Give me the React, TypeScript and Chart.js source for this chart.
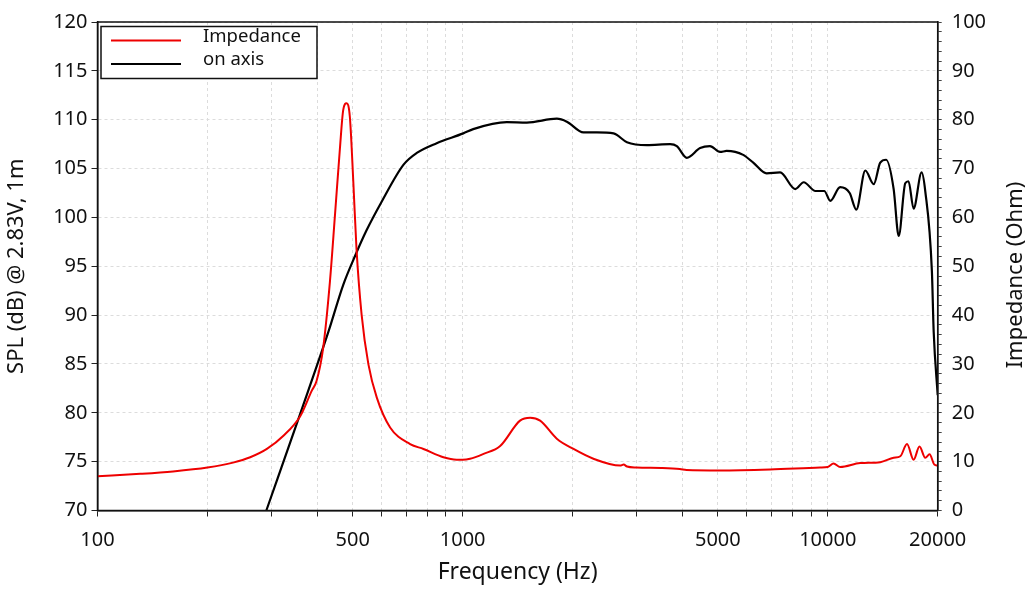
import React, { useEffect, useRef } from "react";
import { Chart, registerables } from "chart.js";
Chart.register(...registerables);

// Impedance curve (right axis, Ohm)
const impFreq = [
  100, 131, 161, 200, 235, 262, 291, 323, 359, 386, 398, 415, 433, 447, 461, 471, 481, 491, 502, 512,
  529, 552, 582, 633, 718, 781, 886, 963, 1000, 1048, 1141, 1267, 1436, 1531, 1630, 1811, 2012, 2281,
  2700, 2760, 2820, 2990, 3500, 3935, 4104, 5070, 6950, 9530, 10000, 10370, 10810, 12270, 13920, 15150,
  15800, 16480, 17180, 17830, 18490, 19000, 19580, 20000,
];
const impOhm = [
  7.0, 7.5, 8.0, 8.8, 9.8, 10.9, 12.6, 15.3, 19.3, 24.5, 26.5, 33.3, 46.8, 60.4, 73.9, 82.0, 83.35, 80.6, 67.1, 53.6,
  40.0, 29.9, 23.1, 17.0, 13.6, 12.6, 10.9, 10.4, 10.4, 10.6, 11.6, 13.2, 18.4, 19.0, 18.4, 14.7, 12.6, 10.6,
  9.2, 9.4, 9.0, 8.8, 8.7, 8.5, 8.3, 8.2, 8.4, 8.8, 8.9, 9.6, 8.9, 9.7, 9.9, 10.8,
  11.1, 13.6, 10.4, 13.1, 10.8, 11.5, 9.4, 9.2,
];

// On-axis SPL curve (left axis, dB)
const splFreq = [
  290, 359, 429, 471, 508, 546, 598, 689, 749, 849, 1004, 1069, 1321, 1499, 1811, 1929, 2143, 2333, 2590,
  2818, 3196, 3700, 3860, 4110, 4470, 4757, 5070, 5285, 5866, 6250, 6800, 7405, 8145, 8590, 9250, 9780,
  10160, 10810, 11480, 11970, 12670, 13360, 13920, 14450, 15150, 15640, 16300, 16640, 17180, 18070, 18490,
  19280, 19500, 20000,
];
const splDb = [
  70.0, 79.9, 88.3, 93.1, 96.1, 98.7, 101.5, 105.4, 106.6, 107.6, 108.6, 109.04, 109.75, 109.7, 110.1, 109.8, 108.7, 108.7, 108.6,
  107.7, 107.4, 107.5, 107.3, 106.1, 107.1, 107.3, 106.7, 106.8, 106.4, 105.6, 104.5, 104.6, 102.9, 103.6, 102.7, 102.7,
  101.7, 103.1, 102.5, 100.8, 104.8, 103.4, 105.6, 105.9, 102.9, 98.1, 103.5, 103.7, 100.9, 104.6, 102.7,
  94.5, 88.3, 81.8,
];

const seriesLabels = ["Impedance", "on axis"];
const seriesColors = ["#ee0000", "#000000"];

const xTickValues = [
  100, 200, 300, 400, 500, 600, 700, 800, 900, 1000, 2000, 3000, 4000, 5000, 6000, 7000, 8000, 9000, 10000, 20000,
];
const xLabelValues = [100, 500, 1000, 5000, 10000, 20000];

const xTitle = "Frequency (Hz)";
const yTitle = "SPL (dB) @ 2.83V, 1m";
const yRTitle = "Impedance (Ohm)";

const FONT = "'Noto Sans', sans-serif";

export default function App() {
  const ref = useRef<HTMLCanvasElement>(null);

  useEffect(() => {
    document.body.style.margin = "0";
    const canvas = ref.current;
    if (!canvas) return;

    const overlay = {
      id: "overlay",
      afterDraw(chart: any) {
        const { ctx, chartArea } = chart;
        ctx.save();
        // frame
        ctx.strokeStyle = "#111";
        ctx.lineWidth = 1.5;
        ctx.strokeRect(chartArea.left, chartArea.top, chartArea.right - chartArea.left, chartArea.bottom - chartArea.top);

        // legend box
        const bx = chartArea.left + 3.5;
        const by = chartArea.top + 4.5;
        ctx.fillStyle = "#ffffff";
        ctx.fillRect(bx, by, 216, 52);
        ctx.strokeStyle = "#111";
        ctx.lineWidth = 1.5;
        ctx.strokeRect(bx, by, 216, 52);
        ctx.font = `18.5px ${FONT}`;
        ctx.textBaseline = "middle";
        ctx.textAlign = "left";
        chart.data.datasets.forEach((ds: any, i: number) => {
          const ly = by + 14 + i * 23.5;
          ctx.strokeStyle = ds.borderColor;
          ctx.lineWidth = 2;
          ctx.beginPath();
          ctx.moveTo(bx + 10, ly);
          ctx.lineTo(bx + 80, ly);
          ctx.stroke();
          ctx.fillStyle = "#111";
          ctx.fillText(ds.label, bx + 102, ly - 4);
        });

        // right axis title (reads bottom to top)
        ctx.translate(1016, 275);
        ctx.rotate(-Math.PI / 2);
        ctx.textAlign = "center";
        ctx.textBaseline = "middle";
        ctx.font = `22px ${FONT}`;
        ctx.fillStyle = "#111";
        ctx.fillText(yRTitle, 0, 0);
        ctx.restore();
      },
    };

    const gridColor = "#dcdcdc";

    const chart = new Chart(canvas, {
      type: "line",
      data: {
        datasets: [
          {
            label: seriesLabels[0],
            data: impFreq.map((f, i) => ({ x: f, y: impOhm[i] })),
            yAxisID: "yR",
            borderColor: seriesColors[0],
            borderWidth: 2,
            pointRadius: 0,
            cubicInterpolationMode: "monotone",
          },
          {
            label: seriesLabels[1],
            data: splFreq.map((f, i) => ({ x: f, y: splDb[i] })),
            yAxisID: "y",
            borderColor: seriesColors[1],
            borderWidth: 2.2,
            pointRadius: 0,
            cubicInterpolationMode: "monotone",
          },
        ],
      },
      options: {
        animation: false,
        responsive: false,
        maintainAspectRatio: false,
        layout: { padding: { top: 18, left: 0, right: 0, bottom: 0 } },
        plugins: { legend: { display: false }, tooltip: { enabled: false } },
        scales: {
          x: {
            type: "logarithmic",
            position: "bottom",
            min: 100,
            max: 20000,
            afterBuildTicks: (s: any) => {
              s.ticks = xTickValues.map((v) => ({ value: v }));
            },
            afterFit: (s: any) => {
              s.height = 80.5;
            },
            ticks: {
              autoSkip: false,
              maxRotation: 0,
              minRotation: 0,
              padding: 12,
              color: "#111",
              font: { family: FONT, size: 20 },
              callback: (v: any) => (xLabelValues.includes(Number(v)) ? String(v) : ""),
            },
            grid: { color: gridColor, tickColor: "#222", tickLength: 6, lineWidth: 1 },
            border: { display: true, color: "#111", width: 1.5, dash: [3, 3] },
            title: {
              display: true,
              text: xTitle,
              color: "#111",
              font: { family: FONT, size: 23 },
              padding: { top: 0, bottom: 5 },
            },
          },
          y: {
            type: "linear",
            position: "left",
            min: 70,
            max: 120,
            afterFit: (s: any) => {
              s.width = 97.5;
            },
            ticks: {
              stepSize: 5,
              autoSkip: false,
              padding: 4,
              color: "#111",
              font: { family: FONT, size: 20 },
            },
            grid: { color: gridColor, tickColor: "#222", tickLength: 6, lineWidth: 1 },
            border: { display: true, color: "#111", width: 1.5, dash: [3, 3] },
            title: {
              display: true,
              text: yTitle,
              color: "#111",
              font: { family: FONT, size: 22 },
              padding: { top: 4, bottom: 0 },
            },
          },
          yR: {
            type: "linear",
            position: "right",
            min: 0,
            max: 100,
            afterFit: (s: any) => {
              s.width = 1033 - 937.7;
            },
            ticks: {
              stepSize: 2,
              autoSkip: false,
              padding: 10,
              color: "#111",
              font: { family: FONT, size: 20 },
              callback: (v: any) => (Number(v) % 10 === 0 ? String(v) : ""),
            },
            grid: { drawOnChartArea: false, tickColor: "#444", tickLength: 4, lineWidth: 1 },
            border: { display: true, color: "#111", width: 1.5 },
          },
        },
      },
      plugins: [overlay],
    } as any);

    return () => chart.destroy();
  }, []);

  return (
    <div style={{ position: "absolute", left: 0, top: 0, width: 1033, height: 591, background: "#fff" }}>
      <canvas ref={ref} width={1033} height={591} style={{ width: 1033, height: 591, display: "block" }} />
    </div>
  );
}
